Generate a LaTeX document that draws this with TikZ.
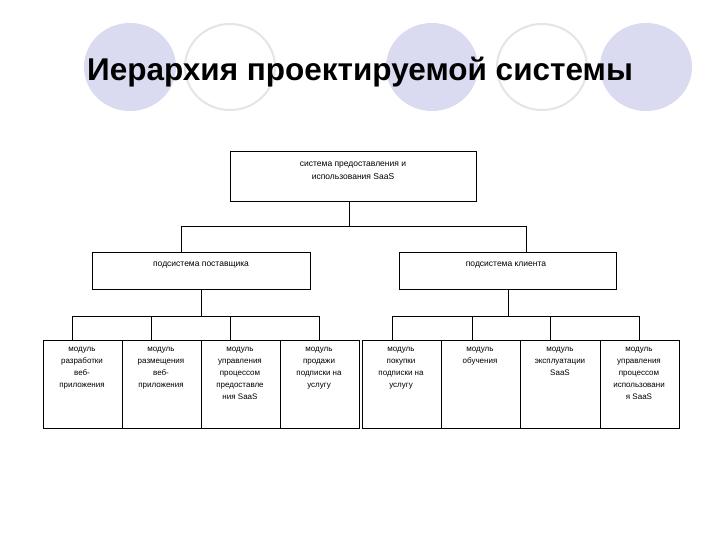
\documentclass[tikz,border=0pt]{standalone}
\usepackage{fontspec}
\setmainfont{Liberation Sans}
\begin{document}
\begin{tikzpicture}[x=1pt,y=-1pt,
  box/.style={draw,line width=0.8pt,inner sep=0pt},
  lbl/.style={align=center,font=\fontsize{8.5}{13}\selectfont,inner sep=0pt},
  ln/.style={line width=0.8pt},
  fc/.style={fill=lav,draw=none},
  oc/.style={draw=ring,line width=2pt}]
\definecolor{lav}{RGB}{218,218,240}
\definecolor{ring}{RGB}{228,228,234}
\useasboundingbox (0,0) rectangle (720,540);
\fill[white] (0,0) rectangle (720,540);
\fill[fc] (130,67) circle[x radius=46,y radius=44];
\draw[oc] (230,67) circle[x radius=45,y radius=43];
\fill[fc] (432,67) circle[x radius=46,y radius=44];
\draw[oc] (542,67) circle[x radius=45,y radius=43];
\fill[fc] (646,67) circle[x radius=46,y radius=44];
\node[font=\bfseries\fontsize{31.5}{36}\selectfont,inner sep=0pt] (title) at (360,72) {Иерархия проектируемой системы};
% top
\draw[box] (230,151) rectangle (476,201);
\node[lbl] (top) at (353,171) {система предоставления и\\использования SaaS};
\coordinate (topb) at (349,201);
% level 2
\draw[box] (92,252) rectangle (310,289);
\draw[box] (399,252) rectangle (616,289);
\node[lbl] (l) at (201,265) {подсистема поставщика};
\node[lbl] (r) at (506,265) {подсистема клиента};
\draw[ln] (topb) -- (349,226) -| (181,252);
\draw[ln] (349,226) -| (526,252);
% bottom
\foreach \a/\b in {43/122,122/201,201/280,280/359,362/441,441/520,520/600,600/679}
  \draw[box] (\a,340) rectangle (\b,428);
\draw[ln] (201,289) -- (201,316);
\draw[ln] (72,340) -- (72,316) -- (319,316) -- (319,340);
\draw[ln] (151,316) -- (151,340);
\draw[ln] (230,316) -- (230,340);
\draw[ln] (508,289) -- (508,316);
\draw[ln] (392,340) -- (392,316) -- (639,316) -- (639,340);
\draw[ln] (472,316) -- (472,340);
\draw[ln] (550,316) -- (550,340);
\tikzset{bl/.style={lbl,anchor=north,font=\fontsize{8}{12}\selectfont}}
\node[bl] (m1) at (82,347) {модуль\\разработки\\веб-\\приложения};
\node[bl] (m2) at (161,347) {модуль\\размещения\\веб-\\приложения};
\node[bl] (m3) at (240,347) {модуль\\управления\\процессом\\предоставле\\ния SaaS};
\node[bl] (m4) at (319,347) {модуль\\продажи\\подписки на\\услугу};
\node[bl] (m5) at (401,347) {модуль\\покупки\\подписки на\\услугу};
\node[bl] (m6) at (480,347) {модуль\\обучения};
\node[bl] (m7) at (560,347) {модуль\\эксплуатации\\SaaS};
\node[bl] (m8) at (639,347) {модуль\\управления\\процессом\\использовани\\я SaaS};
\end{tikzpicture}
\end{document}
